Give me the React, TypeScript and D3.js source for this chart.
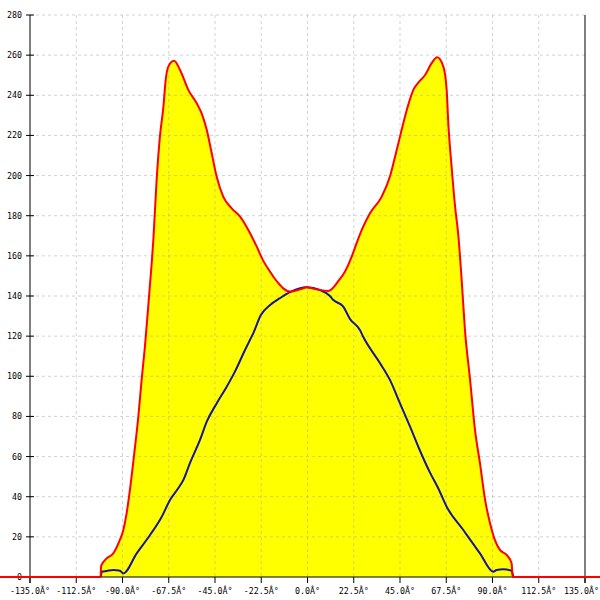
import React from "react";
import * as d3 from "d3";

const redX = [-152, -100.7, -100.4, -97.7, -94.5, -92.0, -89.6, -88.0, -86.4, -83.9, -82.3, -80.7, -79.1, -77.1, -75.8, -75.0, -73.4, -71.8, -70.1, -69.0, -67.7, -64.9, -62.0, -58.0, -53.9, -51.5, -49.0, -46.6, -44.2, -41.0, -36.9, -32.8, -28.8, -24.7, -21.5, -18.2, -16.6, -13.4, -11.8, -8.5, -3.6, -0.4, 4.5, 10.1, 15.4, 18.2, 21.5, 23.9, 26.4, 30.4, 36.1, 40.1, 42.6, 45.0, 48.3, 51.5, 53.9, 57.2, 60.4, 63.1, 66.1, 67.7, 68.5, 70.1, 71.8, 73.4, 75.0, 76.6, 79.1, 81.5, 83.9, 86.4, 88.8, 91.2, 93.6, 96.9, 99.3, 99.8, 152];
const redY = [0, 0, 5.5, 9.3, 11.8, 16.8, 23.4, 31.7, 43.3, 64.9, 79.9, 98.2, 114.7, 139.7, 156.3, 167.9, 197.8, 219.4, 234.3, 247.6, 254.3, 257.2, 252.6, 242.7, 236.0, 231.0, 222.7, 211.1, 199.5, 189.5, 183.7, 179.5, 172.9, 164.6, 157.5, 152.1, 149.6, 145.5, 143.8, 142.2, 143.3, 144.3, 143.3, 142.5, 148.0, 152.1, 159.6, 166.3, 172.9, 181.2, 189.5, 199.5, 209.4, 219.4, 232.7, 242.7, 246.3, 250.1, 256.0, 259.0, 254.3, 242.7, 226.1, 204.5, 184.5, 170.0, 148.0, 123.1, 98.2, 73.2, 56.7, 38.4, 26.8, 18.4, 13.5, 11.0, 6.8, 0, 0];

const blueX = [-100.5, -100.1, -97.7, -94.5, -91.2, -89.6, -83.1, -76.6, -70.9, -66.9, -62.9, -60.4, -57.2, -52.3, -49.0, -44.2, -39.3, -35.3, -30.4, -28.0, -26.4, -22.7, -18.2, -13.4, -8.5, -0.4, 6.1, 10.9, 12.6, 17.4, 20.7, 25.5, 27.1, 35.3, 40.1, 45.0, 49.9, 53.9, 59.6, 63.6, 67.7, 75.8, 83.9, 90.4, 92.0, 95.3, 99.3, 100.1];
const blueY = [0, 2.6, 3.0, 3.5, 3.1, 1.8, 11.8, 20.9, 30.0, 38.4, 44.2, 48.3, 56.7, 68.3, 77.4, 86.5, 94.8, 102.3, 113.1, 118.1, 121.4, 130.5, 135.5, 138.9, 141.9, 144.3, 143.0, 140.0, 138.0, 134.7, 128.5, 123.1, 119.7, 106.5, 98.2, 86.5, 74.9, 64.9, 52.0, 44.2, 35.0, 23.4, 11.8, 2.6, 3.5, 3.8, 3.1, 0];

const xTicks = [-135, -112.5, -90, -67.5, -45, -22.5, 0, 22.5, 45, 67.5, 90, 112.5, 135];
const yTicks = [0, 20, 40, 60, 80, 100, 120, 140, 160, 180, 200, 220, 240, 260, 280];

const fmtX = (v: number) => `${v.toFixed(1)}Â°`;

export default function App() {
  const x = d3.scaleLinear().domain([-135, 135]).range([30, 585]);
  const y = d3.scaleLinear().domain([0, 280]).range([577, 15]);

  const red = redX.map((v, i) => [v, redY[i]] as [number, number]);
  const blue = blueX.map((v, i) => [v, blueY[i]] as [number, number]);

  const area = d3
    .area<[number, number]>()
    .x((d) => x(d[0]))
    .y0(y(0))
    .y1((d) => y(d[1]))
    .curve(d3.curveMonotoneX);
  const line = d3
    .line<[number, number]>()
    .x((d) => x(d[0]))
    .y((d) => y(d[1]))
    .curve(d3.curveMonotoneX);

  const font = "'DejaVu Sans Mono', monospace";

  return (
    <svg
      width={600}
      height={600}
      style={{ position: "absolute", left: 0, top: 0, background: "#fff" }}
    >
      <rect width={600} height={600} fill="#fff" />
      <path d={area(red) || ""} fill="#ffff00" />
      {yTicks.filter((t) => t > 0).map((t) => (
        <line
          key={"gy" + t}
          x1={30}
          x2={585}
          y1={y(t)}
          y2={y(t)}
          stroke="#a8a8a8"
          strokeOpacity={0.5}
          strokeDasharray="3,3"
        />
      ))}
      {xTicks.filter((t) => Math.abs(t) < 135).map((t) => (
        <line
          key={"gx" + t}
          x1={x(t)}
          x2={x(t)}
          y1={15}
          y2={577}
          stroke="#a8a8a8"
          strokeOpacity={0.5}
          strokeDasharray="3,3"
        />
      ))}
      <line x1={30} x2={30} y1={15} y2={583} stroke="#000" />
      <line x1={585} x2={585} y1={15} y2={583} stroke="#000" />
      <line x1={30} x2={585} y1={577} y2={577} stroke="#000" />
      {yTicks.map((t) => (
        <g key={"ty" + t}>
          <line x1={26} x2={34} y1={y(t)} y2={y(t)} stroke="#000" />
          <text
            x={22}
            y={y(t) + 3}
            textAnchor="end"
            fontFamily={font}
            fontSize={8.3}
            fill="#000"
          >
            {t}
          </text>
        </g>
      ))}
      {xTicks.map((t) => (
        <g key={"tx" + t}>
          <line x1={x(t)} x2={x(t)} y1={577} y2={583} stroke="#000" />
          <text
            x={t === 135 ? 599 : x(t)}
            y={594}
            textAnchor={t === 135 ? "end" : "middle"}
            fontFamily={font}
            fontSize={8.3}
            fill="#000"
          >
            {fmtX(t)}
          </text>
        </g>
      ))}
      <path d={line(blue) || ""} fill="none" stroke="#1515a0" strokeWidth={2} />
      <path d={line(red) || ""} fill="none" stroke="#ff0000" strokeWidth={2} />
    </svg>
  );
}
